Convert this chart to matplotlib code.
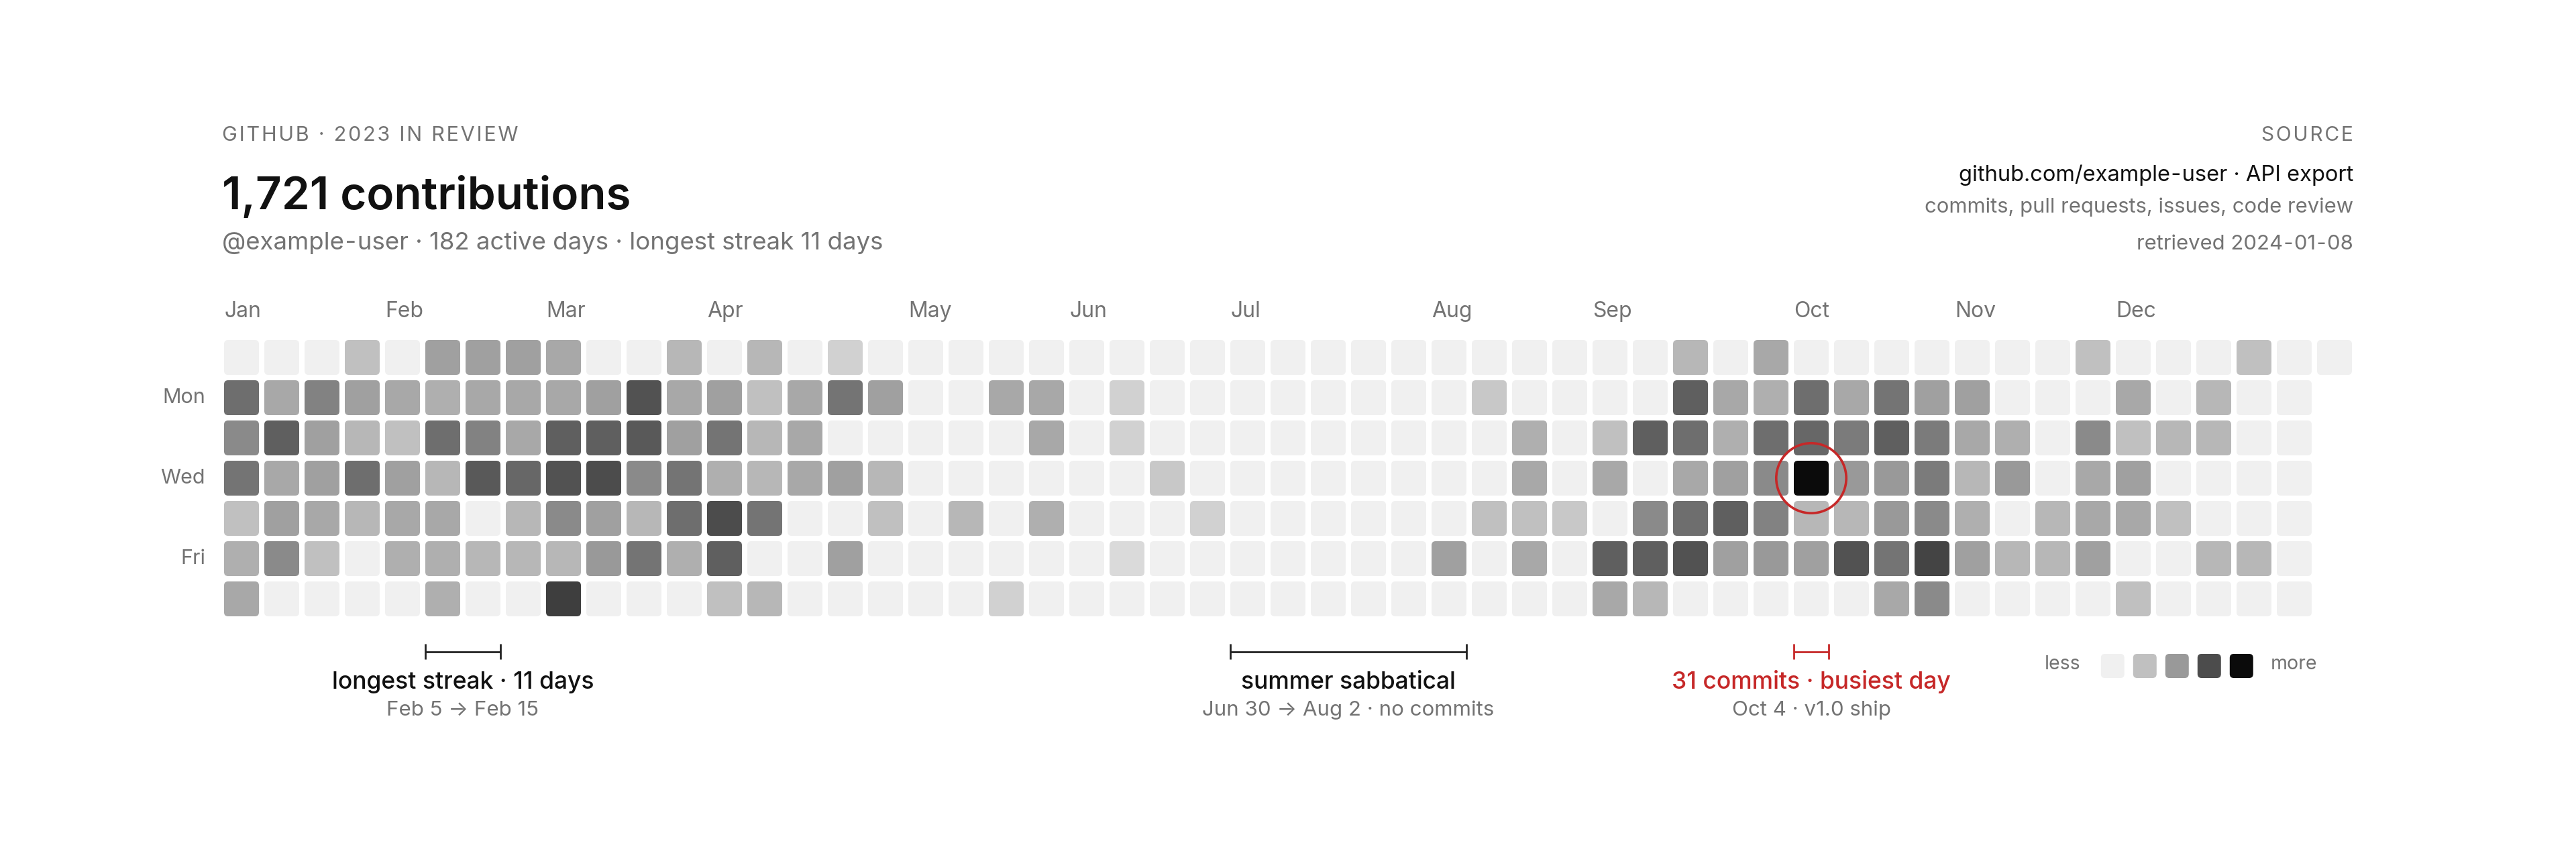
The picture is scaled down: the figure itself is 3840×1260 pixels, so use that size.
import numpy as np
import pandas as pd
import matplotlib
matplotlib.use("Agg")
import matplotlib.pyplot as plt
from matplotlib.colors import LinearSegmentedColormap, PowerNorm
from matplotlib.patches import FancyBboxPatch, Circle

plt.rcParams['font.family'] = ['Inter', 'DejaVu Sans']

# daily contribution counts, 2023
jan = [0, 16, 12, 15, 5, 7, 8, 0, 8, 18, 8, 9, 12, 0, 0, 13, 9, 9, 8, 5, 0,
       5, 9, 6, 16, 6, 0, 0, 0, 8, 5]
feb = [9, 8, 7, 0, 9, 7, 16, 6, 8, 7, 7, 9, 8, 13, 19, 0, 6, 0, 9, 8, 8, 17,
       6, 6, 0, 8, 8, 18]
mar = [20, 12, 6, 23, 0, 9, 18, 21, 9, 10, 0, 0, 20, 19, 12, 6, 15, 0, 6, 8,
       9, 15, 16, 7, 0, 0, 9, 15, 7, 21, 18]
apr = [5, 6, 5, 6, 6, 15, 0, 6, 0, 8, 8, 8, 0, 0, 0, 3, 15, 0, 9, 0, 9, 0,
       0, 9, 0, 6, 5, 0, 0, 0]
may = [0, 0, 0, 0, 0, 0, 0, 0, 0, 0, 6, 0, 0, 0, 8, 0, 0, 0, 0, 3, 0, 8, 8,
       0, 7, 0, 0, 0, 0, 0, 0]
jun = [0, 0, 0, 0, 3, 3, 0, 0, 2, 0, 0, 0, 0, 4, 0, 0, 0, 0, 0, 0, 0, 3, 0,
       0, 0, 0, 0, 0, 0, 0]
jul = [0] * 31
aug = [0, 0, 0, 9, 0, 0, 4, 0, 0, 5, 0, 0, 0, 0, 7, 8, 5, 8, 0, 0, 0, 0, 0,
       4, 0, 0, 0, 0, 5, 8, 0]
sep = [18, 8, 0, 0, 18, 0, 12, 18, 6, 6, 18, 16, 8, 16, 20, 0, 0, 8, 7, 9,
       18, 9, 0, 8, 7, 16, 12, 13, 10, 0]
oct_ = [0, 16, 17, 31, 6, 9, 0, 0, 8, 14, 10, 6, 20, 0, 0, 15, 18, 10, 10,
        15, 8, 0, 9, 14, 14, 12, 22, 12, 0, 9, 8]
nov = [6, 7, 9, 0, 0, 0, 7, 10, 0, 6, 0, 0, 0, 0, 0, 6, 6, 0, 5, 0, 12, 8,
       8, 9, 0, 0, 8, 5, 9, 8]
dec = [0, 5, 0, 0, 6, 0, 5, 0, 0, 0, 6, 6, 0, 0, 6, 0, 5, 0, 0, 0, 0, 6, 0,
       0, 0, 0, 0, 0, 0, 0, 0]

month_names = ['Jan', 'Feb', 'Mar', 'Apr', 'May', 'Jun',
               'Jul', 'Aug', 'Sep', 'Oct', 'Nov', 'Dec']
day_labels = {1: 'Mon', 3: 'Wed', 5: 'Fri'}
legend_levels = [0, 5, 10, 21, 31]

counts = np.array(jan + feb + mar + apr + may + jun + jul + aug + sep + oct_ + nov + dec)
dates = pd.date_range('2023-01-01', '2023-12-31', freq='D')
row = (dates.dayofweek.values + 1) % 7          # sunday on top
col = (np.arange(len(dates)) + row[0]) // 7

GRAY = '#737373'
INK = '#111111'
RED = '#c62828'
CELL = 52 / 60
HY = '\u200a\u2011\u200a'   # spaced hyphen like the original


def tracked(s):
    # poor man's letter spacing
    return '\u200a'.join(s)


cmap = LinearSegmentedColormap.from_list('gh', ['#f0f0f0', '#0b0b0b'])
norm = PowerNorm(0.85, vmin=0, vmax=31)

fig = plt.figure(figsize=(38.4, 12.6), dpi=100)
ax = fig.add_axes([334 / 3840, 1 - 927 / 1260, 3180 / 3840, 420 / 1260])
ax.set_xlim(0, 53)
ax.set_ylim(7, 0)
ax.axis('off')

for c, r, v in zip(col, row, counts):
    ax.add_patch(FancyBboxPatch((c, r), CELL, CELL,
                                boxstyle='round,pad=0,rounding_size=0.1',
                                fc=cmap(norm(v)), ec='none'))

# month labels over the week holding the 1st
for m, name in enumerate(month_names):
    i = dates.get_loc(pd.Timestamp(2023, m + 1, 1))
    ax.text(col[i], -0.57, name, ha='left', va='baseline', fontsize=23, color=GRAY)

for r, name in day_labels.items():
    ax.text(-0.47, r + CELL / 2, name, ha='right', va='center', fontsize=22, color=GRAY)

# busiest day ring
b = counts.argmax()
ax.add_patch(Circle((col[b] + CELL / 2, row[b] + CELL / 2), 0.87, fill=False,
                    ec=RED, lw=2.6, clip_on=False))


def bracket(start, end, title, sub, color):
    i0 = dates.get_loc(pd.Timestamp(start))
    i1 = dates.get_loc(pd.Timestamp(end))
    x0, x1 = col[i0], col[i1] + CELL
    kw = dict(color=color, lw=2, clip_on=False, solid_capstyle='butt')
    ax.plot([x0, x1], [7.75, 7.75], **kw)
    ax.plot([x0, x0], [7.55, 7.93], **kw)
    ax.plot([x1, x1], [7.55, 7.93], **kw)
    xm = (x0 + x1) / 2
    ax.text(xm, 8.67, title, ha='center', va='baseline', fontsize=25.5,
            weight='medium', color=color if color == RED else INK)
    ax.text(xm, 9.33, sub, ha='center', va='baseline', fontsize=22.5, color=GRAY)


bracket('2023-02-05', '2023-02-15', 'longest streak · 11 days', 'Feb 5 → Feb 15', '#222222')
bracket('2023-06-30', '2023-08-02', 'summer sabbatical', 'Jun 30 → Aug 2 · no commits', '#222222')
bracket('2023-10-04', '2023-10-04', '31 commits · busiest day', 'Oct 4 · v1.0 ship', RED)

# legend
for k, lv in enumerate(legend_levels):
    ax.add_patch(FancyBboxPatch((46.63 + 0.8 * k, 7.8), 0.583, 0.6,
                                boxstyle='round,pad=0,rounding_size=0.1',
                                fc=cmap(norm(lv)), ec='none', clip_on=False))
ax.text(46.12, 8.18, 'less', ha='right', va='baseline', fontsize=20.5, color=GRAY)
ax.text(50.85, 8.18, 'more', ha='left', va='baseline', fontsize=20.5, color=GRAY)


# header
def fx(px):
    return px / 3840


def fy(px):
    return 1 - px / 1260


fig.text(fx(331), fy(210), tracked('GITHUB · 2023 IN REVIEW'), fontsize=22, color=GRAY,
         va='baseline')
fig.text(fx(331), fy(312), '1,721 contributions', fontsize=48.5, weight='semibold', color=INK,
         va='baseline')
fig.text(fx(331), fy(372), f'@example{HY}user · 182 active days · longest streak 11 days',
         fontsize=26.3, color=GRAY, va='baseline')

fig.text(fx(3508), fy(210), tracked('SOURCE'), fontsize=21.5, color=GRAY, va='baseline',
         ha='right')
fig.text(fx(3508), fy(270), f'github.com/example{HY}user · API export', fontsize=23.5,
         color=INK, va='baseline', ha='right')
fig.text(fx(3508), fy(317), 'commits, pull requests, issues, code review', fontsize=22.3,
         color=GRAY, va='baseline', ha='right')
fig.text(fx(3508), fy(372), f'retrieved 2024{HY}01{HY}08', fontsize=22.3, color=GRAY,
         va='baseline', ha='right')

fig.savefig('out.png', dpi=100, facecolor='white')
